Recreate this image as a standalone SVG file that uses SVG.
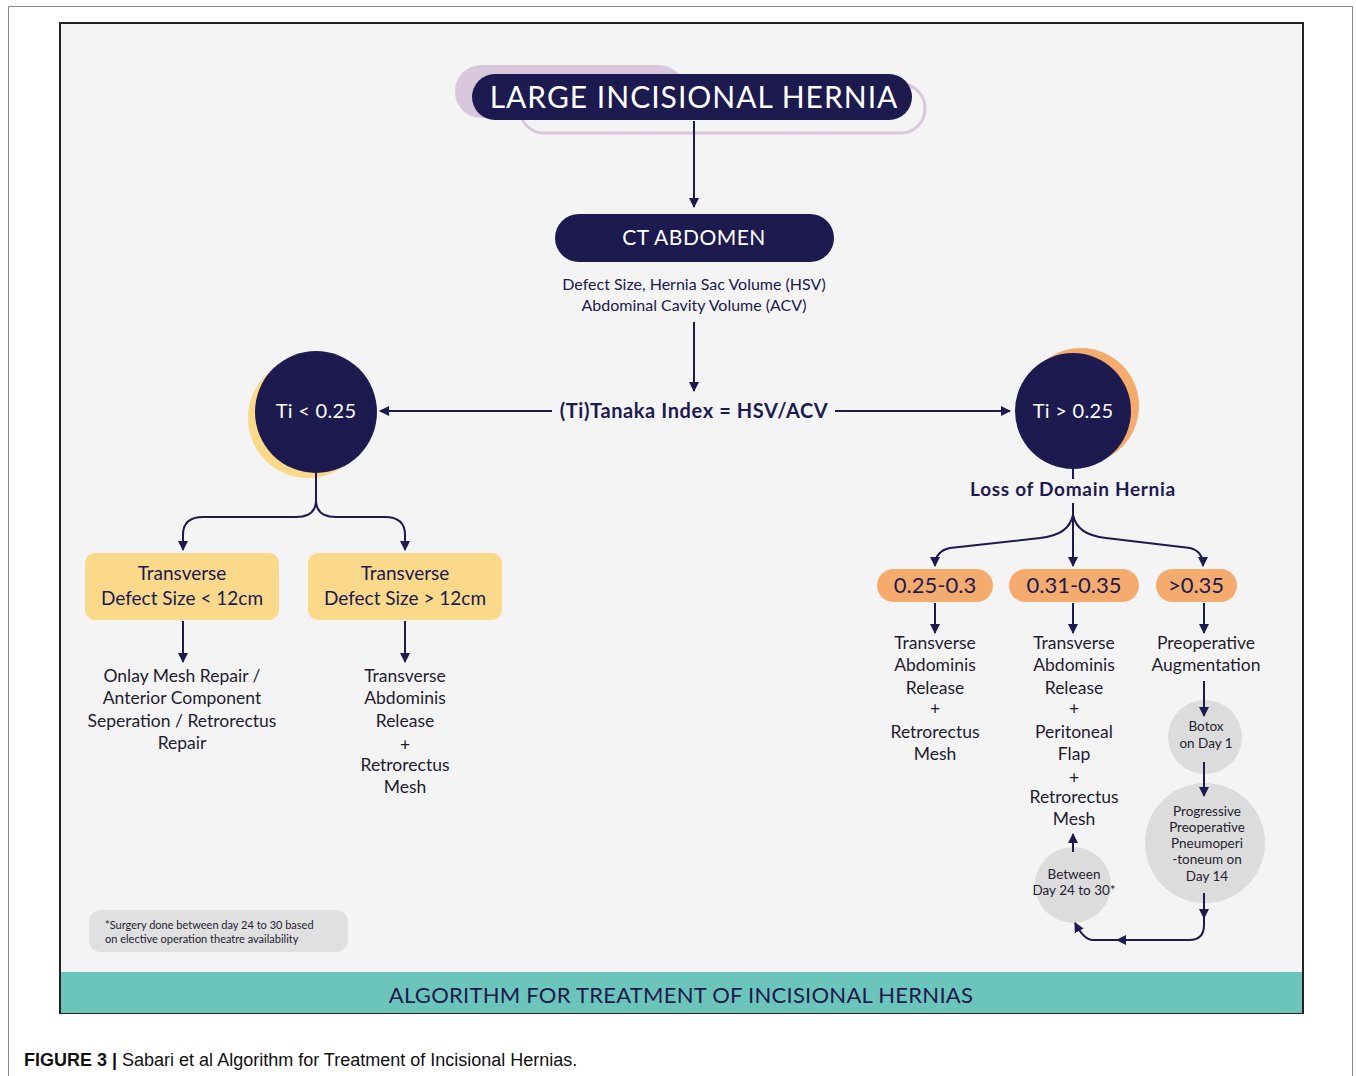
<svg xmlns="http://www.w3.org/2000/svg" width="1356" height="1076" viewBox="0 0 1356 1076">
<defs>
<marker id="ah" viewBox="0 0 10 10" refX="9" refY="5" markerWidth="10" markerHeight="10" markerUnits="userSpaceOnUse" orient="auto">
<path d="M0,0 L10,5 L0,10 Z" fill="#1c1a4f"/>
</marker>
<style>
.t{font-family:Lato,"Open Sans","DejaVu Sans",sans-serif;text-anchor:middle}
.w{fill:#ffffff}
.n{fill:#1c1a4f}
.d{fill:#1e1c30}
.c{stroke:#1c1a4f;stroke-width:2;fill:none}
.g{fill:#dcdcdc}
</style>
</defs>
<rect x="0" y="0" width="1356" height="1076" fill="#ffffff"/>
<path d="M8.5,1076 V6.5 H1352.5 V1076" fill="none" stroke="#888" stroke-width="1"/>
<rect x="60" y="23" width="1243" height="990" fill="#f4f4f4" stroke="#222" stroke-width="2"/>
<rect x="61" y="972" width="1241" height="41" fill="#6cc5bb"/>
<text class="t n" x="681" y="1003" font-size="22" letter-spacing="0.25">ALGORITHM FOR TREATMENT OF INCISIONAL HERNIAS</text>

<g id="title">
<rect x="455" y="65" width="230" height="53" rx="26" fill="#d9c7dc"/>
<rect x="520" y="84" width="405" height="49" rx="24" fill="none" stroke="#d9c7dc" stroke-width="3"/>
<rect x="472" y="74" width="440" height="46" rx="23" fill="#1c1a4f"/>
<text class="t w" x="694" y="108" font-size="30" letter-spacing="1">LARGE INCISIONAL HERNIA</text>
</g>

<g id="ct">
<rect x="555" y="214" width="279" height="48" rx="24" fill="#1c1a4f"/>
<text class="t w" x="694" y="245" font-size="21" letter-spacing="0.5">CT ABDOMEN</text>
<text class="t n" x="694" y="290" font-size="16">Defect Size, Hernia Sac Volume (HSV)</text>
<text class="t n" x="694" y="311" font-size="16">Abdominal Cavity Volume (ACV)</text>
</g>

<g id="tanaka">
<text class="t n" x="694" y="418" font-size="20" font-weight="bold" letter-spacing="0.6">(Ti)Tanaka Index = HSV/ACV</text>
</g>

<g id="ti-low">
<circle cx="308" cy="418" r="60" fill="#fad98a"/>
<circle cx="316" cy="412" r="61" fill="#1c1a4f"/>
<text class="t w" x="316" y="418" font-size="20" letter-spacing="0.3">Ti &lt; 0.25</text>
</g>

<g id="ti-high">
<circle cx="1081" cy="406" r="58" fill="#f5ab6e"/>
<circle cx="1073" cy="411" r="58" fill="#1c1a4f"/>
<text class="t w" x="1073" y="418" font-size="20" letter-spacing="0.3">Ti &gt; 0.25</text>
<text class="t n" x="1073" y="496" font-size="19" font-weight="bold" letter-spacing="0.7">Loss of Domain Hernia</text>
</g>

<g id="box-lt12">
<rect x="85" y="553" width="194" height="67" rx="10" fill="#fbd98a"/>
<text class="t n" x="182" y="580" font-size="19">Transverse</text>
<text class="t n" x="182" y="605" font-size="19">Defect Size &lt; 12cm</text>
</g>
<g id="box-gt12">
<rect x="308" y="553" width="194" height="67" rx="10" fill="#fbd98a"/>
<text class="t n" x="405" y="580" font-size="19">Transverse</text>
<text class="t n" x="405" y="605" font-size="19">Defect Size &gt; 12cm</text>
</g>

<g id="res-lt12">
<text class="t d" x="182" y="682" font-size="17.5">Onlay Mesh Repair /</text>
<text class="t d" x="182" y="704" font-size="17.5">Anterior Component</text>
<text class="t d" x="182" y="727" font-size="17.5">Seperation / Retrorectus</text>
<text class="t d" x="182" y="749" font-size="17.5">Repair</text>
</g>
<g id="res-gt12">
<text class="t d" x="405" y="682" font-size="17.5">Transverse</text>
<text class="t d" x="405" y="704" font-size="17.5">Abdominis</text>
<text class="t d" x="405" y="727" font-size="17.5">Release</text>
<text class="t d" x="405" y="751" font-size="17.5">+</text>
<text class="t d" x="405" y="771" font-size="17.5">Retrorectus</text>
<text class="t d" x="405" y="793" font-size="17.5">Mesh</text>
</g>

<g id="r1">
<rect x="877" y="569" width="116" height="33" rx="16.5" fill="#f5ab6e"/>
<text class="t n" x="935" y="593" font-size="22">0.25-0.3</text>
</g>
<g id="r2">
<rect x="1009" y="569" width="130" height="33" rx="16.5" fill="#f5ab6e"/>
<text class="t n" x="1074" y="593" font-size="22">0.31-0.35</text>
</g>
<g id="r3">
<rect x="1156" y="569" width="81" height="33" rx="16.5" fill="#f5ab6e"/>
<text class="t n" x="1196" y="593" font-size="22">&gt;0.35</text>
</g>

<g id="res-r1">
<text class="t d" x="935" y="649" font-size="17.5">Transverse</text>
<text class="t d" x="935" y="671" font-size="17.5">Abdominis</text>
<text class="t d" x="935" y="694" font-size="17.5">Release</text>
<text class="t d" x="935" y="715" font-size="17.5">+</text>
<text class="t d" x="935" y="738" font-size="17.5">Retrorectus</text>
<text class="t d" x="935" y="760" font-size="17.5">Mesh</text>
</g>
<g id="res-r2">
<text class="t d" x="1074" y="649" font-size="17.5">Transverse</text>
<text class="t d" x="1074" y="671" font-size="17.5">Abdominis</text>
<text class="t d" x="1074" y="694" font-size="17.5">Release</text>
<text class="t d" x="1074" y="715" font-size="17.5">+</text>
<text class="t d" x="1074" y="738" font-size="17.5">Peritoneal</text>
<text class="t d" x="1074" y="760" font-size="17.5">Flap</text>
<text class="t d" x="1074" y="784" font-size="17.5">+</text>
<text class="t d" x="1074" y="803" font-size="17.5">Retrorectus</text>
<text class="t d" x="1074" y="825" font-size="17.5">Mesh</text>
</g>
<g id="res-r3">
<text class="t d" x="1206" y="649" font-size="17.5">Preoperative</text>
<text class="t d" x="1206" y="671" font-size="17.5">Augmentation</text>
</g>

<g id="botox">
<circle cx="1205" cy="737" r="37" class="g"/>
<text class="t d" x="1206" y="731" font-size="13.5">Botox</text>
<text class="t d" x="1206" y="748" font-size="13.5">on Day 1</text>
</g>
<g id="ppp">
<circle cx="1205" cy="843" r="60" class="g"/>
<text class="t d" x="1207" y="816" font-size="13.5">Progressive</text>
<text class="t d" x="1207" y="832" font-size="13.5">Preoperative</text>
<text class="t d" x="1207" y="848" font-size="13.5">Pneumoperi</text>
<text class="t d" x="1207" y="864" font-size="13.5">-toneum on</text>
<text class="t d" x="1207" y="881" font-size="13.5">Day 14</text>
</g>
<g id="between">
<circle cx="1073" cy="885" r="38" class="g"/>
<text class="t d" x="1074" y="879" font-size="13.5">Between</text>
<text class="t d" x="1074" y="895" font-size="13.5">Day 24 to 30*</text>
</g>

<g id="note">
<rect x="89" y="910" width="259" height="42" rx="12" fill="#e0e0e0"/>
<text font-family="Lato,'Open Sans',sans-serif" font-size="11" class="d" x="105" y="929">*Surgery done between day 24 to 30 based</text>
<text font-family="Lato,'Open Sans',sans-serif" font-size="11" class="d" x="105" y="943">on elective operation theatre availability</text>
</g>

<g id="connectors">
<path class="c" d="M694,121 V207" marker-end="url(#ah)"/>
<path class="c" d="M694,322 V391" marker-end="url(#ah)"/>
<path class="c" d="M552,411 H380" marker-end="url(#ah)"/>
<path class="c" d="M835,411 H1010" marker-end="url(#ah)"/>
<path class="c" d="M316,473 V500 Q316,517 296,517 H203 Q183,517 183,535 V550" marker-end="url(#ah)"/>
<path class="c" d="M316,500 Q316,517 336,517 H385 Q405,517 405,535 V550" marker-end="url(#ah)"/>
<path class="c" d="M183,621 V662" marker-end="url(#ah)"/>
<path class="c" d="M405,621 V662" marker-end="url(#ah)"/>
<path class="c" d="M1073,469 V479"/>
<path class="c" d="M1073,503 V566" marker-end="url(#ah)"/>
<path class="c" d="M1073,515 Q1069,535 1040,538 L950,548 Q935,551 935,566" marker-end="url(#ah)"/>
<path class="c" d="M1073,515 Q1077,535 1106,538 L1190,548 Q1203,551 1203,566" marker-end="url(#ah)"/>
<path class="c" d="M935,603 V633" marker-end="url(#ah)"/>
<path class="c" d="M1073,603 V633" marker-end="url(#ah)"/>
<path class="c" d="M1204,603 V633" marker-end="url(#ah)"/>
<path class="c" d="M1204,681 V716" marker-end="url(#ah)"/>
<path class="c" d="M1204,762 V796" marker-end="url(#ah)"/>
<path class="c" d="M1204,893 V918" marker-end="url(#ah)"/>
<path class="c" d="M1204,915 V925 Q1204,940 1189,940 H1117" marker-end="url(#ah)"/>
<path class="c" d="M1120,940 H1093 Q1084,940 1075,923" marker-end="url(#ah)"/>
<path class="c" d="M1073,852 V834" marker-end="url(#ah)"/>
</g>

<text x="24" y="1066" font-family="'Liberation Sans',Arial,sans-serif" font-size="18" fill="#111"><tspan font-weight="bold">FIGURE 3 | </tspan>Sabari et al Algorithm for Treatment of Incisional Hernias.</text>
</svg>
